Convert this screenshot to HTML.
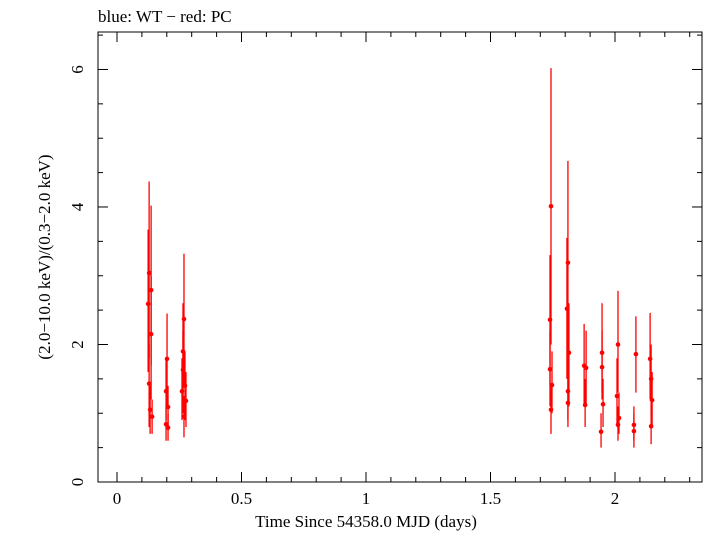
<!DOCTYPE html>
<html><head><meta charset="utf-8"><style>
body{margin:0;background:#fff}
svg text{font-family:"Liberation Serif",serif;fill:#000}
</style></head><body>
<svg id="chart" width="705" height="532" xmlns="http://www.w3.org/2000/svg">
<text x="98" y="22" font-size="17">blue: WT − red: PC</text>
<rect x="98" y="32" width="604" height="450" fill="none" stroke="#000" stroke-width="1"/>
<g id="ticks"></g>
<g id="marks"></g>
<text x="366" y="527" font-size="17" text-anchor="middle">Time Since 54358.0 MJD (days)</text>
<text transform="translate(50,257) rotate(-90)" font-size="17" text-anchor="middle">(2.0−10.0 keV)/(0.3−2.0 keV)</text>
</svg>
<script>
const xs =  [0.129,0.125,0.137,0.137,0.129,0.133,0.141, 0.201,0.197,0.205,0.197,0.205, 0.269,0.265,0.265,0.273,0.261,0.277,0.269,
             1.743,1.739,1.739,1.747,1.743, 1.811,1.807,1.815,1.811,1.811, 1.876,1.884,1.880, 1.948,1.948,1.952,1.944,
             2.012,2.008,2.016,2.012, 2.084,2.076,2.076, 2.141,2.145,2.149,2.145];
const ys =  [3.04,2.59,2.79,2.15,1.43,1.05,0.95, 1.79,1.32,1.09,0.84,0.79, 2.37,1.90,1.63,1.40,1.32,1.18,0.95,
             4.01,2.36,1.64,1.41,1.05, 3.19,2.52,1.88,1.32,1.15, 1.69,1.66,1.12, 1.88,1.67,1.13,0.73,
             2.00,1.25,0.93,0.83, 1.86,0.83,0.74, 1.79,1.50,1.19,0.81];
const yLo = [1.8,1.6,1.7,1.2,0.8,0.7,0.7, 1.1,0.9,0.75,0.6,0.6, 1.4,1.1,1.0,0.9,0.9,0.8,0.65,
             2.0,1.4,1.1,1.0,0.7, 1.8,1.5,1.1,0.9,0.8, 1.1,1.1,0.8, 1.3,1.2,0.8,0.5,
             1.3,0.85,0.7,0.6, 1.3,0.6,0.5, 1.2,1.0,0.8,0.55];
const yHi = [4.37,3.67,4.02,3.0,2.0,1.4,1.2, 2.45,1.8,1.4,1.1,1.0, 3.32,2.6,2.2,1.9,1.8,1.6,1.25,
             6.02,3.30,2.2,1.9,1.4, 4.67,3.55,2.6,1.8,1.5, 2.3,2.2,1.5, 2.60,2.2,1.5,1.0,
             2.78,1.8,1.3,1.1, 2.41,1.1,1.0, 2.46,2.0,1.6,1.1];
const xTicks = [0,0.5,1,1.5,2];
const xTickLabels = ["0","0.5","1","1.5","2"];
const yTicks = [0,2,4,6];
const yTickLabels = ["0","2","4","6"];
const X0=98,X1=702,Y0=482,Y1=32, xmin=-0.0763, xmax=2.3494, ymin=0, ymax=6.545;
const sx=v=>X0+(v-xmin)/(xmax-xmin)*(X1-X0);
const sy=v=>Y0-(v-ymin)/(ymax-ymin)*(Y0-Y1);
const NS="http://www.w3.org/2000/svg";
function mk(tag,at,parent){const e=document.createElementNS(NS,tag);for(const k in at)e.setAttribute(k,at[k]);parent.appendChild(e);return e;}
const tg=document.getElementById('ticks');
for(let v=0;v<=2.3001;v+=0.1){const x=sx(v);const major=Math.abs(v/0.5-Math.round(v/0.5))<1e-6;const L=major?10:5;
 const t1=mk('line',{x1:x,y1:Y0,x2:x,y2:Y0-L,stroke:'#000'},tg);
 
 
 const t2=mk('line',{x1:x,y1:Y1,x2:x,y2:Y1+L,stroke:'#000'},tg);
 
 }
for(let v=0;v<=6.5001;v+=0.5){const y=sy(v);const major=Math.abs(v/2-Math.round(v/2))<1e-6;const L=major?10:5;
 const t1=mk('line',{x1:X0,y1:y,x2:X0+L,y2:y,stroke:'#000'},tg);
 
 
 const t2=mk('line',{x1:X1,y1:y,x2:X1-L,y2:y,stroke:'#000'},tg);
 
 }
xTicks.forEach((v,i)=>{const t=mk('text',{x:sx(v),y:504,'font-size':17,'text-anchor':'middle'},tg);t.textContent=xTickLabels[i];
 
 });
yTicks.forEach((v,i)=>{const t=mk('text',{transform:`translate(83,${sy(v)}) rotate(-90)`,'font-size':17,'text-anchor':'middle'},tg);t.textContent=yTickLabels[i];
 
 });
const mg=document.getElementById('marks');
xs.forEach((v,i)=>{const x=sx(v);
 const e=mk('line',{x1:x,y1:sy(yLo[i]),x2:x,y2:sy(yHi[i]),stroke:'#f00','stroke-width':1.3},mg);
 
 
 const c=mk('circle',{cx:x,cy:sy(ys[i]),r:2.3,fill:'#f00'},mg);
 
 });
</script>
</body></html>
